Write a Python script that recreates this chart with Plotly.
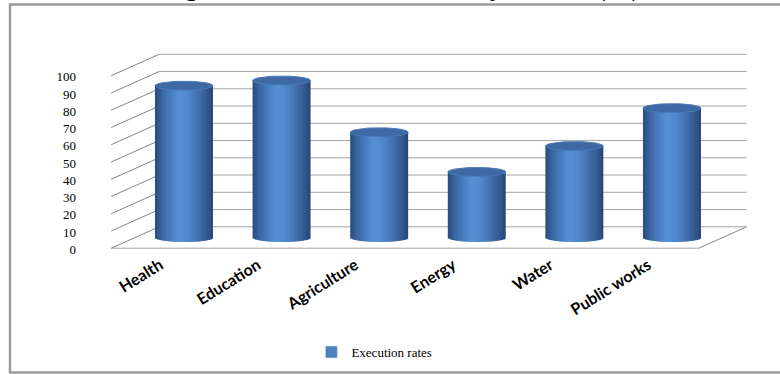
import numpy as np
import plotly.graph_objects as go

# ---- data ----
categories = ["Health", "Education", "Agriculture", "Energy", "Water", "Public works"]
execution_rates = [88, 91, 61, 38, 53, 75]
y_ticks = [0, 10, 20, 30, 40, 50, 60, 70, 80, 90, 100]
series_name = "Execution rates"
title_text = "Figure 3.4: Execution Rates by Sectors (%)"

# ---- layout geometry (axis units) ----
FIG_W, FIG_H = 780, 374
X_RANGE = [-1.885, 6.107]
Y_RANGE = [-79.13, 137.68]
DX, DY = 0.245, 6.2          # oblique depth offset of the pseudo-3D box
LABEL_SHIFT = 6.8            # value labels sit on the front edge of the side wall
LEFT, RIGHT = -0.5, 5.52     # bar plane extents
BAR_W = 0.594
CAP = 2.6                    # half height of the cylinder ellipses
N_STRIPS = 30
SERIF = "Liberation Serif, Times New Roman, serif"

stops = [(0.0, "#2a4a7a"), (0.12, "#3a66a3"), (0.30, "#4c82c5"), (0.42, "#5690d3"),
         (0.56, "#5189cc"), (0.75, "#416fae"), (0.90, "#33598f"), (1.0, "#284574")]


def hex2rgb(h):
    return np.array([int(h[i:i + 2], 16) for i in (1, 3, 5)], float)


def shade(t):
    for (t0, c0), (t1, c1) in zip(stops[:-1], stops[1:]):
        if t0 <= t <= t1:
            f = (t - t0) / (t1 - t0)
            c = hex2rgb(c0) * (1 - f) + hex2rgb(c1) * f
            return "rgb(%d,%d,%d)" % tuple(np.round(c))
    return stops[-1][1]


idx = np.arange(len(categories))
vals = np.array(execution_rates, float)

fig = go.Figure()

# cylinder bodies: vertical strips carrying the horizontal shading
sw = BAR_W / N_STRIPS
for k in range(N_STRIPS):
    t = (k + 0.5) / N_STRIPS
    u = 2 * t - 1
    base = -CAP * np.sqrt(max(0.0, 1 - u * u))
    width = sw if k == N_STRIPS - 1 else sw * 1.6
    fig.add_trace(go.Bar(
        x=idx, y=vals - base, base=base,
        width=width, offset=-BAR_W / 2 + k * sw,
        marker=dict(color=shade(t), line=dict(width=0)),
        showlegend=False, hoverinfo="skip"))

# cylinder tops
th = np.linspace(0, 2 * np.pi, 80)
for i, v in zip(idx, vals):
    fig.add_trace(go.Scatter(
        x=i + BAR_W / 2 * np.cos(th), y=v + CAP * np.sin(th),
        mode="lines", fill="toself", fillcolor="#3f69a4",
        line=dict(color="#4a78b6", width=1),
        showlegend=False, hoverinfo="skip"))

# legend entry
fig.add_trace(go.Bar(x=[None], y=[None], name=series_name,
                     marker=dict(color="#4f81bd"), showlegend=True))
# holder for the value-label axis
fig.add_trace(go.Scatter(x=[None], y=[None], yaxis="y2", showlegend=False,
                         hoverinfo="skip"))

# pseudo-3D walls and floor
shapes = []
grid = dict(color="#a4a4a4", width=1)
for v in y_ticks:
    shapes.append(dict(type="line", xref="x", yref="y", layer="below",
                       x0=LEFT + DX, x1=RIGHT + DX, y0=v + DY, y1=v + DY, line=grid))
    shapes.append(dict(type="line", xref="x", yref="y", layer="below",
                       x0=LEFT - DX, x1=LEFT + DX, y0=v - DY, y1=v + DY,
                       line=dict(color="#858585", width=1)))
shapes.append(dict(type="line", xref="x", yref="y", layer="below",
                   x0=LEFT - DX, x1=RIGHT - DX, y0=-DY, y1=-DY, line=grid))
shapes.append(dict(type="line", xref="x", yref="y", layer="below",
                   x0=RIGHT - DX, x1=RIGHT + DX, y0=-DY, y1=DY,
                   line=dict(color="#858585", width=1)))
# outer frame
shapes.append(dict(type="rect", xref="paper", yref="paper",
                   x0=10 / FIG_W, x1=1.05, y0=1.5 / FIG_H, y1=1 - 4.5 / FIG_H,
                   line=dict(color="#9b9b9b", width=2.5)))

fig.update_layout(
    width=FIG_W, height=FIG_H,
    margin=dict(l=0, r=0, t=0, b=0),
    paper_bgcolor="white", plot_bgcolor="white",
    barmode="overlay",
    shapes=shapes,
    xaxis=dict(range=X_RANGE, domain=[0, 1], anchor="free", position=(FIG_H - 252) / FIG_H,
               tickmode="array", tickvals=idx - DX, ticktext=categories,
               tickangle=-32, ticks="", showgrid=False, zeroline=False, showline=False,
               tickfont=dict(family="Lato", size=16, color="black", weight="bold")),
    yaxis=dict(range=Y_RANGE, visible=False, fixedrange=True),
    yaxis2=dict(range=[Y_RANGE[0] + LABEL_SHIFT, Y_RANGE[1] + LABEL_SHIFT], overlaying="y",
                anchor="free", position=76 / FIG_W, side="left",
                tickmode="array", tickvals=y_ticks, ticks="",
                showgrid=False, zeroline=False, showline=False,
                tickfont=dict(family=SERIF, size=13, color="black")),
    legend=dict(orientation="h", x=0.48, xanchor="center", y=(FIG_H - 352) / FIG_H,
                yanchor="middle", font=dict(family=SERIF, size=13, color="black"),
                bgcolor="rgba(0,0,0,0)"),
    annotations=[dict(text="<b>" + title_text + "</b>", xref="paper", yref="paper",
                      x=401 / FIG_W, y=1 - 4 / FIG_H, xanchor="center", yanchor="bottom",
                      showarrow=False,
                      font=dict(family=SERIF, size=26, color="black"))],
)

fig.write_html("out.html")
